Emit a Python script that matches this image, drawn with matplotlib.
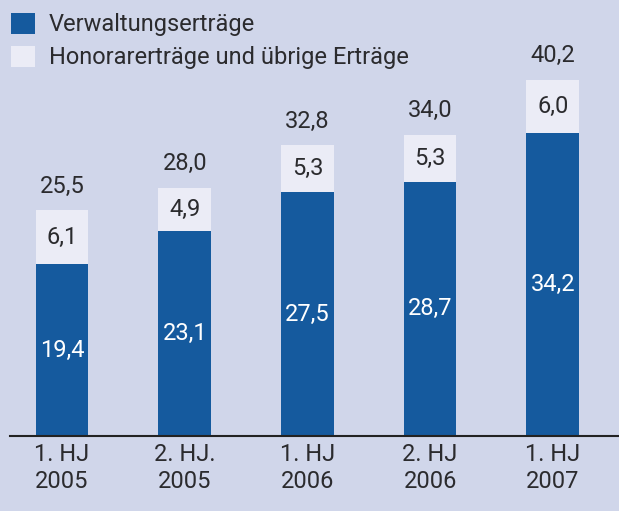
import matplotlib.pyplot as plt
import numpy as np

# Daten
perioden = ['1. HJ\n2005', '2. HJ.\n2005', '1. HJ\n2006', '2. HJ\n2006', '1. HJ\n2007']
verwaltung = [19.4, 23.1, 27.5, 28.7, 34.2]
honorar = [6.1, 4.9, 5.3, 5.3, 6.0]
gesamt = [25.5, 28.0, 32.8, 34.0, 40.2]

blau = '#155a9e'
hell = '#ebecf6'
hintergrund = '#d0d6ea'
textfarbe = '#2b2b2e'

plt.rcParams['font.family'] = ['Roboto', 'DejaVu Sans']

fig = plt.figure(figsize=(6.19, 5.11), dpi=100, facecolor=hintergrund)
ax = fig.add_axes([10 / 619, 75 / 511, 609 / 619, 436 / 511])
ax.set_facecolor(hintergrund)

x = np.arange(len(perioden))
breite = 0.43
ax.bar(x, verwaltung, breite, color=blau, label='Verwaltungserträge')
ax.bar(x, honorar, breite, bottom=verwaltung, color=hell,
       label='Honorarerträge und übrige Erträge')

def fmt(v):
    return f'{v:.1f}'.replace('.', ',')

for i in range(len(x)):
    ax.text(x[i], verwaltung[i] / 2, fmt(verwaltung[i]), ha='center', va='center',
            color='white', fontsize=17)
    ax.text(x[i], verwaltung[i] + honorar[i] / 2, fmt(honorar[i]), ha='center',
            va='center', color=textfarbe, fontsize=17)
    ax.text(x[i], gesamt[i] + 2.7, fmt(gesamt[i]), ha='center', va='center',
            color=textfarbe, fontsize=17)

ax.set_xlim(-0.424, 4.54)
ax.set_ylim(0, 49.2)
ax.set_yticks([])
ax.set_xticks(x)
ax.set_xticklabels(perioden, fontsize=17, color=textfarbe, linespacing=1.25)
ax.tick_params(axis='x', length=0, pad=5)
for s in ['top', 'right', 'left']:
    ax.spines[s].set_visible(False)
ax.spines['bottom'].set_color('#222222')
ax.spines['bottom'].set_linewidth(1.5)

ax.legend(loc='upper left', bbox_to_anchor=(0, 0.974), frameon=False,
          fontsize=17, handlelength=1.0, handleheight=1.0,
          handletextpad=0.6, labelspacing=0.4, borderaxespad=0.0,
          borderpad=0.05, labelcolor=textfarbe)

plt.savefig('out.png', dpi=100, facecolor=hintergrund)
